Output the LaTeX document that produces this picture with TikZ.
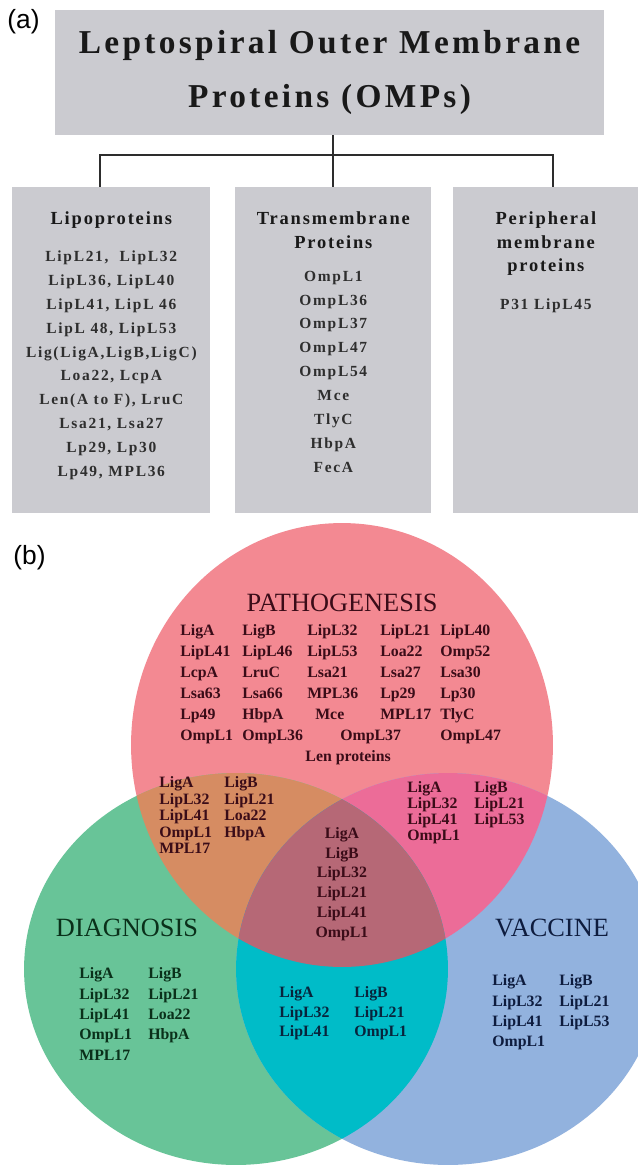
\documentclass[tikz,border=0pt]{standalone}
\usepackage{fontspec}
\setmainfont{Liberation Serif}
\newfontfamily\tagfont{Liberation Sans}
\newfontfamily\widefont[LetterSpace=10]{Liberation Serif}
\newfontfamily\itemfont[LetterSpace=11]{Liberation Serif}
\usepackage{tikz}
\usetikzlibrary{positioning}
\usetikzlibrary{calc}
\setlength{\tabcolsep}{0pt}
\definecolor{boxgray}{RGB}{203,203,208}
\definecolor{treegray}{RGB}{45,45,45}
\definecolor{pathofill}{RGB}{243,137,146}
\definecolor{diagfill}{RGB}{104,196,152}
\definecolor{vaccfill}{RGB}{146,178,222}
\definecolor{pdfill}{RGB}{214,140,98}
\definecolor{pvfill}{RGB}{236,108,152}
\definecolor{dvfill}{RGB}{0,188,200}
\definecolor{allfill}{RGB}{182,104,118}
\definecolor{pathotext}{RGB}{58,12,24}
\definecolor{diagtext}{RGB}{10,48,26}
\definecolor{vacctext}{RGB}{14,28,62}
\definecolor{dvtext}{RGB}{8,36,60}
\tikzset {
  node distance={0.44cm},
  % (a) and (b)
  tag/.style = {font=\tagfont\fontsize{15}{18}\selectfont, inner sep=0pt},
  % grey boxes of the classification
  graybox/.style = {fill=boxgray, inner sep=0pt},
  titletext/.style = {font=\widefont\bfseries\fontsize{19}{30.5}\selectfont, align=center, text=black!90},
  heading/.style = {font=\widefont\bfseries\fontsize{10.5}{13.6}\selectfont, align=center, inner sep=0pt, text=black!90},
  itemlist/.style = {font=\itemfont\bfseries\fontsize{8.8}{13.6}\selectfont, align=center, inner sep=0pt, text=black!82},
  tree/.style = {treegray, line width=1.1pt},
  % venn diagram
  setname/.style = {font=\fontsize{15}{18}\selectfont, inner sep=0pt},
  vlist/.style = {font=\bfseries\fontsize{9}{#1}\selectfont, inner sep=0pt},
}
\def\pathoset{(342,745) ellipse [x radius=4.22cm, y radius=4.44cm]}
\def\diagset{(236,969) ellipse [x radius=4.24cm, y radius=3.92cm]}
\def\vaccset{(448,969) ellipse [x radius=4.24cm, y radius=3.92cm]}

\begin{document}
\begin{tikzpicture}[x=0.02cm, y=-0.02cm]
  \useasboundingbox[fill=white] (0,0) rectangle (638,1169);

  % (a) the OMP classes
  \node[tag, anchor=west] (taga) at (7,22) {(a)};
  \node[graybox, titletext, minimum width=10.98cm, minimum height=2.5cm] (title) at (329.5,72.5) {Leptospiral Outer Membrane\\Proteins (OMPs)};

  \node[graybox, minimum width=3.96cm, minimum height=6.52cm, anchor=north west] (lipo) at (12,187) {};
  \node[graybox, minimum width=3.92cm, minimum height=6.52cm, anchor=north west] (trans) at (235,187) {};
  \node[graybox, minimum width=3.70cm, minimum height=6.52cm, anchor=north west] (peri) at (453,187) {};

  \draw[tree] (trans.north) -- (trans.north |- title.south);
  \draw[tree] ($(lipo.north)+(-11,0)$) -- ++(0,-32) -| ($(peri.north)+(7,0)$);

  \node[heading, anchor=north] (lipohead) at ($(lipo.north)+(0,24)$) {Lipoproteins};
  \node[heading, anchor=north] (transhead) at ($(trans.north)+(0,24)$) {Transmembrane\\Proteins};
  \node[heading, anchor=north] (perihead) at ($(peri.north)+(0,24)$) {Peripheral\\membrane\\proteins};

  \node[itemlist, below=of lipohead] (lipolist) {LipL21,\ \ LipL32\\LipL36, LipL40\\LipL41, LipL 46\\LipL 48, LipL53\\Lig(LigA,LigB,LigC)\\Loa22, LcpA\\Len(A to F), LruC\\Lsa21, Lsa27\\Lp29, Lp30\\Lp49, MPL36};
  \node[itemlist, below=of transhead] (translist) {OmpL1\\OmpL36\\OmpL37\\OmpL47\\OmpL54\\Mce\\TlyC\\HbpA\\FecA};
  \node[itemlist, below=of perihead] (perilist) {P31 LipL45};

  % (b) venn diagram
  \node[tag, anchor=west] (tagb) at (13,558) {(b)};
  \fill[pathofill] \pathoset;
  \fill[diagfill] \diagset;
  \fill[vaccfill] \vaccset;
  \begin{scope}
    \clip \pathoset;
    \fill[pdfill] \diagset;
    \fill[pvfill] \vaccset;
  \end{scope}
  \begin{scope}
    \clip \diagset;
    \fill[dvfill] \vaccset;
  \end{scope}
  \begin{scope}
    \clip \pathoset;
    \clip \diagset;
    \fill[allfill] \vaccset;
  \end{scope}

  \node[setname, text=pathotext] (patho) at (342,603) {PATHOGENESIS};
  \node[setname, text=diagtext] (diag) at (127,928) {DIAGNOSIS};
  \node[setname, text=vacctext] (vacc) at (552,928) {VACCINE};

  \node[vlist=11.9, text=pathotext, anchor=north west] (patholist) at (180,621) {%
    \begin{tabular}{@{}p{1.24cm}p{1.30cm}p{1.46cm}p{1.20cm}l@{}}
      LigA & LigB & LipL32 & LipL21 & LipL40\\
      LipL41 & LipL46 & LipL53 & Loa22 & Omp52\\
      LcpA & LruC & Lsa21 & Lsa27 & Lsa30\\
      Lsa63 & Lsa66 & MPL36 & Lp29 & Lp30\\
      Lp49 & HbpA & \hspace*{0.16cm}Mce & MPL17 & TlyC\\
      OmpL1 & OmpL36 & \hspace*{0.66cm}OmpL37 & & OmpL47\\
      \multicolumn{5}{c}{\hspace*{0.3cm}Len proteins}
    \end{tabular}};
  \node[vlist=9.4, text=pathotext, anchor=north west] (pdlist) at (159,776) {%
    \begin{tabular}{@{}p{1.30cm}l@{}}
      LigA & LigB\\ LipL32 & LipL21\\ LipL41 & Loa22\\ OmpL1 & HbpA\\ MPL17
    \end{tabular}};
  \node[vlist=9.1, text=pathotext, anchor=north west] (pvlist) at (407,781) {%
    \begin{tabular}{@{}p{1.34cm}l@{}}
      LigA & LigB\\ LipL32 & LipL21\\ LipL41 & LipL53\\ OmpL1
    \end{tabular}};
  \node[vlist=11.3, text=pathotext, anchor=north] (alllist) at (342,824) {%
    \begin{tabular}{@{}c@{}}
      LigA\\ LigB\\ LipL32\\ LipL21\\ LipL41\\ OmpL1
    \end{tabular}};
  \node[vlist=11.6, text=diagtext, anchor=north west] (diaglist) at (79,964) {%
    \begin{tabular}{@{}p{1.38cm}l@{}}
      LigA & LigB\\ LipL32 & LipL21\\ LipL41 & Loa22\\ OmpL1 & HbpA\\ MPL17
    \end{tabular}};
  \node[vlist=11.3, text=dvtext, anchor=north west] (dvlist) at (279,983) {%
    \begin{tabular}{@{}p{1.50cm}l@{}}
      LigA & LigB\\ LipL32 & LipL21\\ LipL41 & OmpL1
    \end{tabular}};
  \node[vlist=11.6, text=vacctext, anchor=north west] (vacclist) at (492,971) {%
    \begin{tabular}{@{}p{1.34cm}l@{}}
      LigA & LigB\\ LipL32 & LipL21\\ LipL41 & LipL53\\ OmpL1
    \end{tabular}};
\end{tikzpicture}
\end{document}
